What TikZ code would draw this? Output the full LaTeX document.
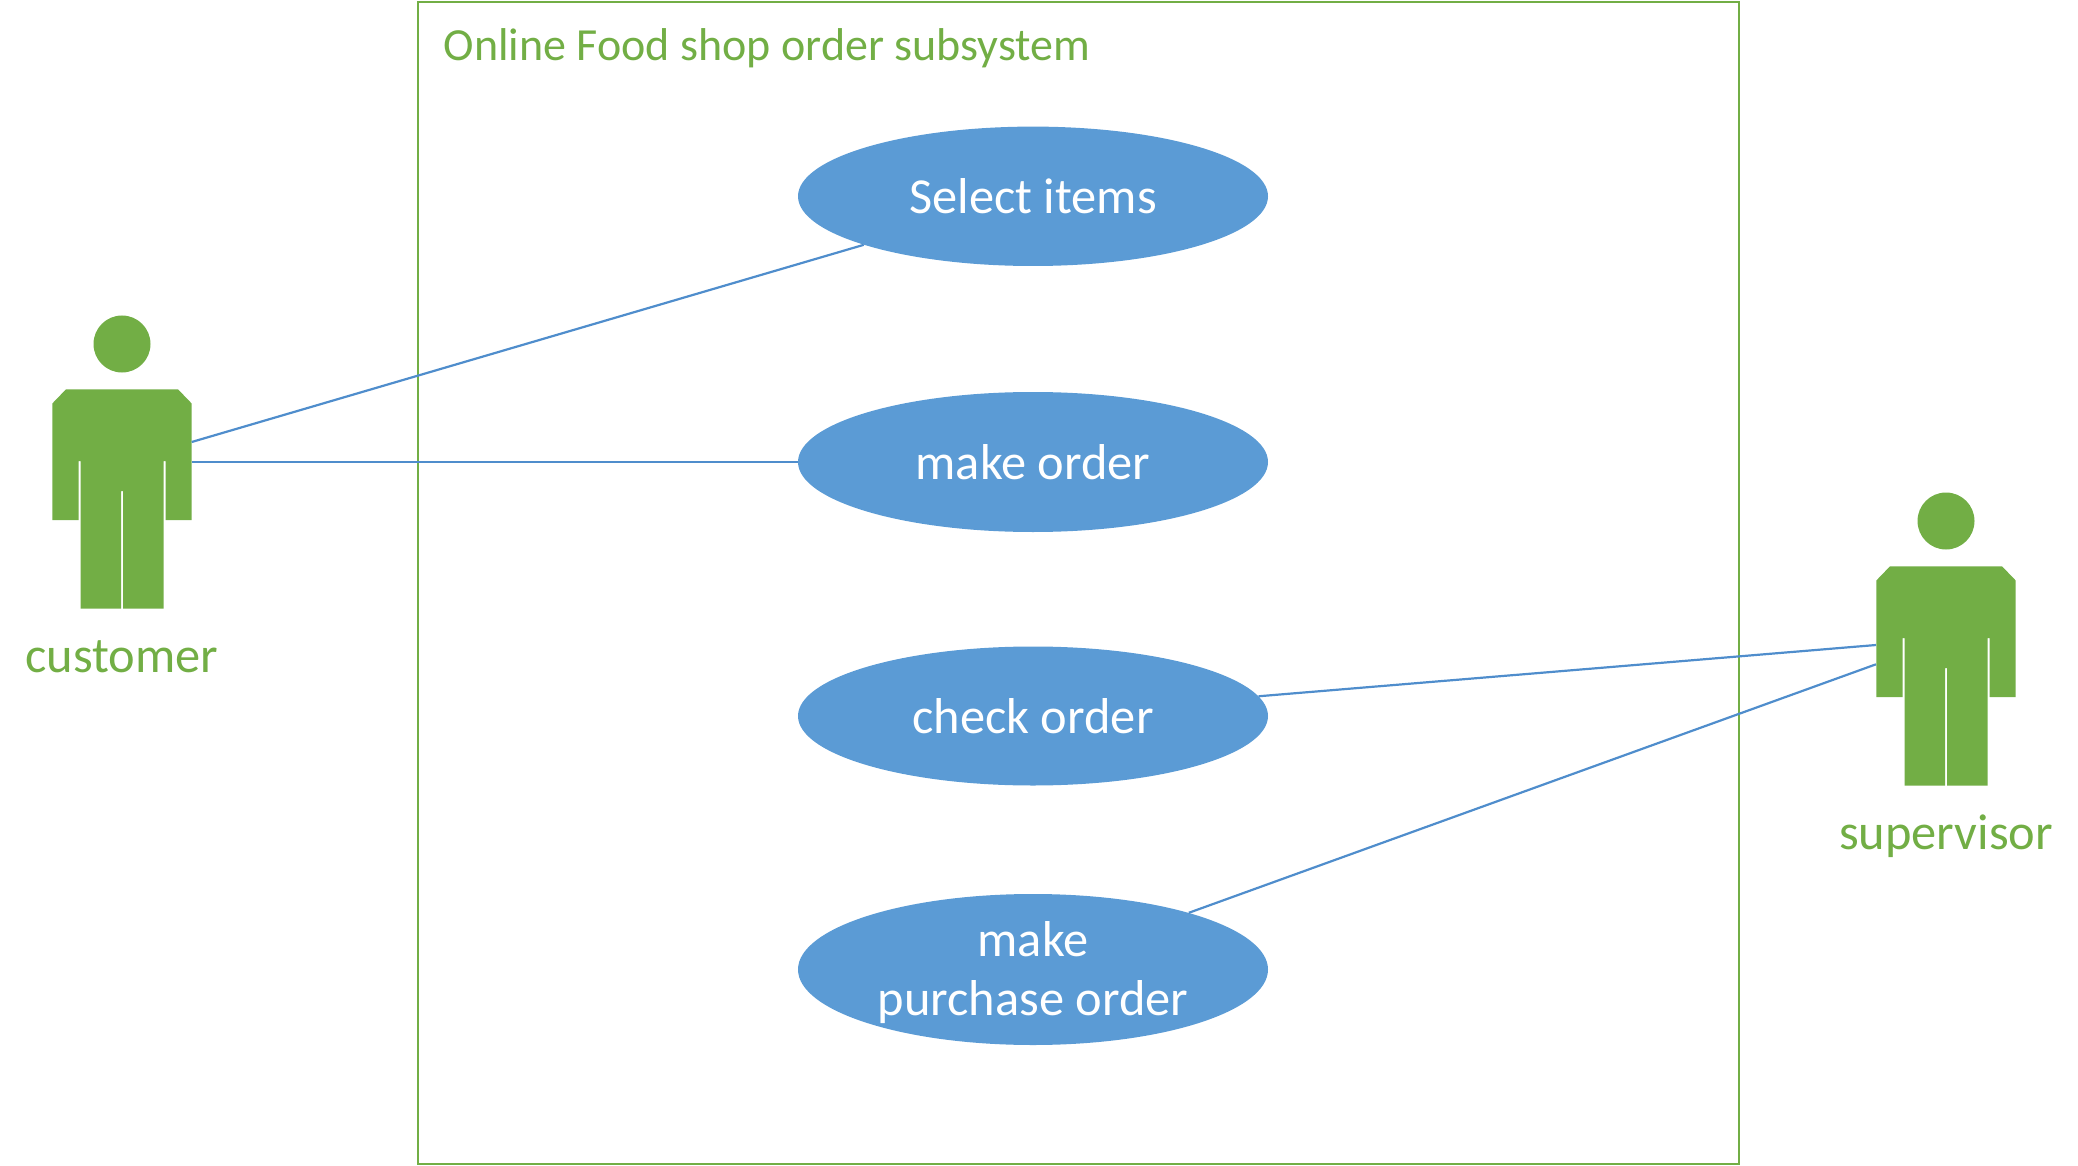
\documentclass[tikz,border=0pt]{standalone}
\usepackage{fontspec}
\setmainfont{Carlito}
\usetikzlibrary{shapes.geometric}
\definecolor{grn}{HTML}{72AE45}
\definecolor{blu}{HTML}{5B9BD5}
\definecolor{lin}{HTML}{4F8DCC}
\tikzset{
  usecase/.style={ellipse,fill=blu,draw=none,inner sep=0pt,minimum width=470pt,text=white,align=center,font=\fontsize{50.4}{59}\selectfont},
  actorlabel/.style={anchor=base,inner sep=0pt,text=grn,font=\fontsize{50.4}{56}\selectfont},
  link/.style={draw=lin,line width=2.2pt},
  actorfill/.style={fill=grn,draw=none}
}
\newcommand{\actorshape}{%
  \fill[actorfill] (122,344) circle[radius=28.5pt];
  \fill[actorfill] (52.3,403.5)--(66,389.3)--(178,389.3)--(191.7,403.5)--(191.7,520)--(165.7,520)--(165.7,461)--(163.7,461)--(163.7,608.7)--(123,608.7)--(123,491)--(121,491)--(121,608.7)--(80.7,608.7)--(80.7,461)--(78.7,461)--(78.7,520)--(52.3,520)--cycle;
}
\begin{document}
\begin{tikzpicture}[x=1pt,y=-1pt]
\useasboundingbox (0,0) rectangle (2078,1166);
\node[draw=grn,line width=2pt,inner sep=0pt,minimum width=1321pt,minimum height=1162pt] (frame) at (1078,583) {};
\node[anchor=base west,inner sep=0pt,text=grn,font=\fontsize{46}{54}\selectfont] (title) at (443.6,60.5) {Online Food shop order subsystem};
\coordinate (c1) at (191.7,442);
\coordinate (c2) at (191.7,462);
\coordinate (s1) at (1876,645);
\coordinate (s2) at (1876,664.3);
\node[usecase,minimum height=139.4pt] (select) at (1033,196.3) {Select items};
\node[usecase,minimum height=140pt] (makeorder) at (1033,462) {make order};
\node[usecase,minimum height=139pt] (check) at (1033,716) {check order};
\node[usecase,minimum height=151pt,inner ysep=-5pt] (purchase) at (1033,969.5) {\rule{0pt}{42pt}make\\purchase order};
\actorshape
\begin{scope}[shift={(1824,177)}]
\actorshape
\end{scope}
\node[actorlabel] (customer) at (122,672.7) {customer};
\node[actorlabel] (supervisor) at (1946,849.7) {supervisor};
\draw[link] (c1) -- (select.196);
\draw[link] (c2) -- (makeorder.west);
\draw[link] (s1) -- (check.5);
\draw[link] (s2) -- (purchase.20);
\end{tikzpicture}
\end{document}
